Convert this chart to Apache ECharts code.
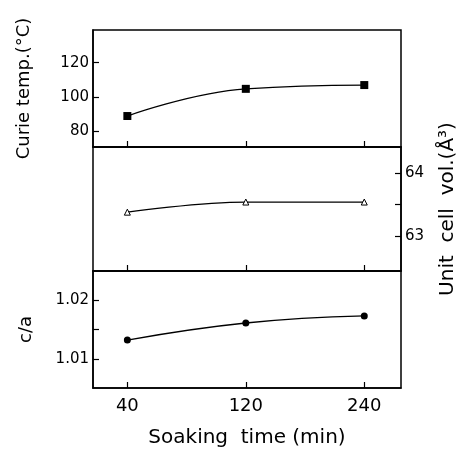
<!DOCTYPE html>
<html>
<head>
<meta charset="utf-8">
<script src="https://cdn.jsdelivr.net/npm/echarts@6/dist/echarts.min.js"></script>
<style>
html,body{margin:0;padding:0;background:#fff;}
#chart{width:474px;height:449px;}
</style>
</head>
<body>
<div id="chart"></div>
<script>
// ---- data ----
const categories = ['40', '120', '240'];          // soaking time (min)
const curieTemp = [89, 104.8, 107];               // Curie temp (°C)
const cellVolume = [63.38, 63.54, 63.54];         // unit cell volume (Å³)
const cOverA = [1.0132, 1.0161, 1.0173];          // c/a
const curieTicks = [80, 100, 120];
const volumeTicks = [63, 63.5, 64];
const volumeLabels = [63, 64];
const caTicks = [1.01, 1.015, 1.02];
const caLabels = [1.01, 1.02];
const xName = 'Soaking  time (min)';
const curieName = 'Curie temp.(°C)';
const volumeName = 'Unit  cell  vol.(Å³)';
const caName = 'c/a';

const FONT = 'DejaVu Sans';
const idx = categories.map((c, i) => i);
const toPts = arr => arr.map((v, i) => [i, v]);

const grids = [
  { left: 93, right: 73, top: 30, height: 117 },
  { left: 93, right: 73, top: 147, height: 124 },
  { left: 93, right: 73, top: 271, height: 117 }
].map(g => Object.assign(g, { show: true, borderColor: '#000', borderWidth: 1.5, containLabel: false }));

function xAxis(gi, showLabels) {
  return {
    type: 'value', gridIndex: gi, min: -0.29, max: 2.31,
    splitLine: { show: false },
    axisLine: { show: true, lineStyle: { color: '#000', width: 1.5 } },
    axisTick: { show: true, inside: true, length: 6, customValues: idx, lineStyle: { color: '#000', width: 1.2 } },
    axisLabel: {
      show: showLabels, customValues: idx, margin: 9,
      formatter: v => categories[Math.round(v)] || '',
      color: '#000', fontFamily: FONT, fontSize: 18
    },
    name: showLabels ? xName : '', nameLocation: 'middle', nameGap: 40,
    nameTextStyle: { color: '#000', fontFamily: FONT, fontSize: 20 }
  };
}

function yAxis(gi, pos, min, max, ticks, labels, fmt, name, nameGap, nameSize) {
  return {
    type: 'value', gridIndex: gi, position: pos, min: min, max: max,
    splitLine: { show: false },
    axisLine: { show: true, onZero: false, lineStyle: { color: '#000', width: 1.5 } },
    axisTick: { show: true, inside: true, length: 6, customValues: ticks, lineStyle: { color: '#000', width: 1.2 } },
    axisLabel: { customValues: labels, margin: 4, formatter: fmt, color: '#000', fontFamily: FONT, fontSize: 15 },
    name: name, nameLocation: 'middle', nameGap: nameGap, nameRotate: 90,
    nameTextStyle: { color: '#000', fontFamily: FONT, fontSize: nameSize }
  };
}

const option = {
  backgroundColor: '#fff',
  animation: false,
  grid: grids,
  xAxis: [xAxis(0, false), xAxis(1, false), xAxis(2, true)],
  yAxis: [
    yAxis(0, 'left', 71, 139, curieTicks, curieTicks, v => String(v), curieName, 60, 18),
    yAxis(1, 'right', 62.45, 64.41, volumeTicks, volumeLabels, v => String(v), volumeName, 37, 20),
    yAxis(2, 'left', 1.00508, 1.02492, caTicks, caLabels, v => v.toFixed(2), caName, 58, 18)
  ],
  series: [
    { type: 'line', xAxisIndex: 0, yAxisIndex: 0, data: toPts(curieTemp), smooth: 0.45,
      symbol: 'rect', symbolSize: 8, itemStyle: { color: '#000' }, lineStyle: { color: '#000', width: 1.3 } },
    { type: 'line', xAxisIndex: 1, yAxisIndex: 1, data: toPts(cellVolume), smooth: 0.4, smoothMonotone: 'x',
      symbol: 'triangle', symbolSize: 6, itemStyle: { color: '#fff', borderColor: '#000', borderWidth: 1 }, lineStyle: { color: '#000', width: 1.3 } },
    { type: 'line', xAxisIndex: 2, yAxisIndex: 2, data: toPts(cOverA), smooth: 0.45,
      symbol: 'circle', symbolSize: 7, itemStyle: { color: '#000' }, lineStyle: { color: '#000', width: 1.3 } }
  ]
};

const chart = echarts.init(document.getElementById('chart'), null, { renderer: 'canvas' });
chart.setOption(option);
</script>
</body>
</html>
